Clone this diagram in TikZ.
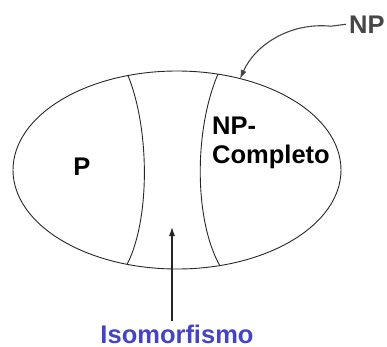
\documentclass[tikz,border=0pt]{standalone}
\usepackage{fontspec}
\setmainfont{Liberation Sans}
\usetikzlibrary{arrows.meta}
\definecolor{isoblue}{RGB}{68,68,196}
\definecolor{npgrey}{RGB}{70,70,70}
\begin{document}
\begin{tikzpicture}[x=1bp,y=-1bp,
  outline/.style={line width=0.9bp,draw=black!85},
  lbl/.style={font=\fontsize{25.5bp}{29bp}\selectfont\bfseries,inner sep=3bp},
  pointer/.style={line width=1.1bp,-{Latex[length=9bp,width=6bp]}}]
\useasboundingbox (0,0) rectangle (387,347);
% outer set
\draw[outline] (177,170) ellipse [x radius=164, y radius=99];
% dividers
\draw[outline] (128,75.5) .. controls (150,130) and (150,220) .. (127,264.5);
\draw[outline] (218,74) .. controls (194,130) and (194,220) .. (220,266);
% labels
\node[lbl,anchor=base] (p) at (82,175) {P};
\node[lbl,anchor=base west,align=left,text=black] (npc) at (209,163) {NP-\\Completo};
\node[lbl,anchor=base west,text=npgrey] (np) at (346,33) {NP};
\node[lbl,anchor=base,text=isoblue] (iso) at (177,343) {Isomorfismo};
% pointers
\coordinate (npTip) at (240,79);
\coordinate (isoTip) at (172,227);
\draw[pointer,draw=npgrey] (np.west) -- ++(-15,2) .. controls (290,22) and (255,45) .. (npTip);
\draw[pointer,draw=black!85] (iso.north -| isoTip) -- (isoTip);
\end{tikzpicture}
\end{document}
